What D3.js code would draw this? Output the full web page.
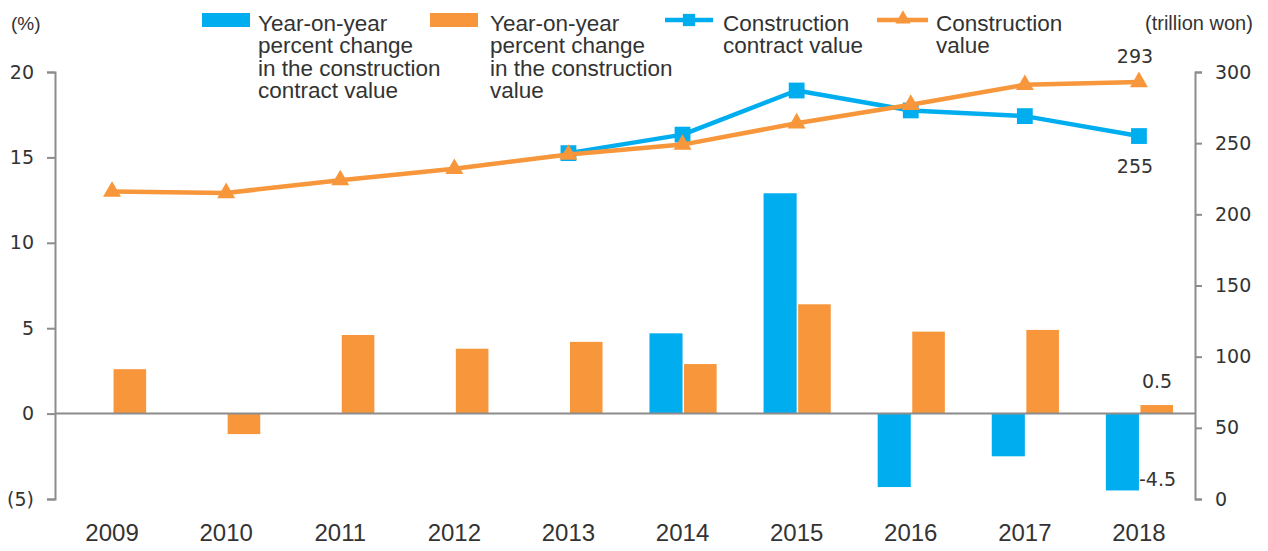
<!DOCTYPE html>
<html>
<head>
<meta charset="utf-8">
<script src="https://cdn.jsdelivr.net/npm/d3@7"></script>
<style>
  body { margin: 0; background: #fff; }
  svg { display: block; }
</style>
</head>
<body>
<svg id="chart"></svg>
<script>
// data
var years = ["2009", "2010", "2011", "2012", "2013", "2014", "2015", "2016", "2017", "2018"];
var contractPct = [null, null, null, null, null, 4.7, 12.9, -4.3, -2.5, -4.5];
var constructionPct = [2.6, -1.2, 4.6, 3.8, 4.2, 2.9, 6.4, 4.8, 4.9, 0.5];
var contractValue = [null, null, null, null, 243, 256, 287, 273, 269, 255];
var constructionValue = [216, 215, 224, 232, 242, 249, 264, 277, 291, 293];
var leftTicks = [-5, 0, 5, 10, 15, 20];
var rightTicks = [0, 50, 100, 150, 200, 250, 300];

function init() {
    var w = 1268;
    var h = 551;
    var blue = "#00aeef";
    var orange = "#f7963a";
    var grey = "#8c8c8c";
    var textCol = "#333";

    var svg = d3.select("#chart")
                .attr("width", w)
                .attr("height", h);

    var x = d3.scaleBand()
              .domain(years)
              .range([55, 1196])
              .padding(0);

    var yL = d3.scaleLinear().domain([-5, 20]).range([499, 72]);
    var yR = d3.scaleLinear().domain([0, 300]).range([499, 72]);

    var barW = x.bandwidth() * 0.29;
    function cx(i) { return x(years[i]) + x.bandwidth() / 2; }

    // bars
    svg.append("g").selectAll("rect")
        .data(contractPct)
        .enter()
        .filter(function(d) { return d !== null; })
        .append("rect")
        .attr("x", function(d) { return cx(contractPct.indexOf(d)) - barW; })
        .attr("y", function(d) { return yL(Math.max(0, d)); })
        .attr("width", barW)
        .attr("height", function(d) { return Math.abs(yL(d) - yL(0)); })
        .attr("fill", blue);

    svg.append("g").selectAll("rect")
        .data(constructionPct)
        .enter()
        .append("rect")
        .attr("x", function(d, i) { return cx(i) + 1.5; })
        .attr("y", function(d) { return yL(Math.max(0, d)); })
        .attr("width", barW - 0.5)
        .attr("height", function(d) { return Math.abs(yL(d) - yL(0)); })
        .attr("fill", orange);

    // axes
    var leftAxis = d3.axisLeft(yL)
                     .tickValues(leftTicks)
                     .tickSize(8)
                     .tickPadding(13)
                     .tickFormat(function(d) { return d < 0 ? "(" + Math.abs(d) + ")" : d; });
    var gl = svg.append("g")
                .attr("transform", "translate(55,0)")
                .call(leftAxis);

    var rightAxis = d3.axisRight(yR)
                      .tickValues(rightTicks)
                      .tickSize(7)
                      .tickPadding(13);
    var gr = svg.append("g")
                .attr("transform", "translate(1195,0)")
                .call(rightAxis);

    [gl, gr].forEach(function(g) {
        g.selectAll("path, line").attr("stroke", grey).attr("stroke-width", 2);
        g.selectAll("text")
         .attr("fill", textCol)
         .style("font-family", "DejaVu Sans")
         .style("font-size", "19px");
    });

    // zero line
    svg.append("line")
        .attr("x1", 55).attr("x2", 1195)
        .attr("y1", yL(0)).attr("y2", yL(0))
        .attr("stroke", grey)
        .attr("stroke-width", 2);

    // year labels
    svg.append("g").selectAll("text")
        .data(years)
        .enter()
        .append("text")
        .attr("x", function(d, i) { return cx(i); })
        .attr("y", 541)
        .attr("text-anchor", "middle")
        .style("font-family", "Liberation Sans")
        .style("font-size", "24px")
        .attr("fill", textCol)
        .text(function(d) { return d; });

    // lines
    function drawLine(values, scale, color, symbol, size) {
        var pts = [];
        values.forEach(function(v, i) {
            if (v !== null) pts.push([cx(i), scale(v)]);
        });
        svg.append("path")
            .attr("d", d3.line()(pts))
            .attr("fill", "none")
            .attr("stroke", color)
            .attr("stroke-width", 4.5)
            .attr("stroke-linejoin", "round");
        svg.append("g").selectAll("path")
            .data(pts)
            .enter()
            .append("path")
            .attr("transform", function(d) { return "translate(" + d[0] + "," + d[1] + ")"; })
            .attr("d", d3.symbol().type(symbol).size(size))
            .attr("fill", color);
    }
    drawLine(contractValue, yR, blue, d3.symbolSquare, 250);
    drawLine(constructionValue, yR, orange, d3.symbolTriangle, 140);

    // value labels
    var last = years.length - 1;
    function label(tx, ty, str, anchor) {
        svg.append("text")
            .attr("x", tx).attr("y", ty)
            .attr("text-anchor", anchor)
            .style("font-family", "DejaVu Sans")
            .style("font-size", "19px")
            .attr("fill", textCol)
            .text(str);
    }
    label(cx(last) - 4, yR(constructionValue[last]) - 19, constructionValue[last], "middle");
    label(cx(last) - 4, yR(contractValue[last]) + 37, contractValue[last], "middle");
    label(cx(last) + 1.5 + barW / 2, yL(constructionPct[last]) - 17, constructionPct[last], "middle");
    label(cx(last), yL(contractPct[last]) - 4, contractPct[last], "start");

    // axis unit labels
    svg.append("text")
        .attr("x", 11).attr("y", 30)
        .style("font-family", "Liberation Sans")
        .style("font-size", "19px")
        .attr("fill", textCol)
        .text("(%)");
    svg.append("text")
        .attr("x", 1145).attr("y", 30)
        .style("font-family", "Liberation Sans")
        .style("font-size", "20px")
        .attr("fill", textCol)
        .text("(trillion won)");

    // legend
    var legendFont = "22.5px";
    function legendText(tx, lines) {
        var t = svg.append("text")
                   .attr("x", tx).attr("y", 30.5)
                   .style("font-family", "Liberation Sans")
                   .style("font-size", legendFont)
                   .attr("fill", textCol);
        lines.forEach(function(s, i) {
            t.append("tspan")
             .attr("x", tx)
             .attr("y", 30.5 + i * 22.6)
             .text(s);
        });
    }

    svg.append("rect").attr("x", 202).attr("y", 13).attr("width", 48).attr("height", 14).attr("fill", blue);
    legendText(258, ["Year-on-year", "percent change", "in the construction", "contract value"]);

    svg.append("rect").attr("x", 430).attr("y", 13).attr("width", 48).attr("height", 14).attr("fill", orange);
    legendText(490, ["Year-on-year", "percent change", "in the construction", "value"]);

    svg.append("line").attr("x1", 665).attr("x2", 713).attr("y1", 20).attr("y2", 20)
        .attr("stroke", blue).attr("stroke-width", 4.5);
    svg.append("path").attr("transform", "translate(689,20)")
        .attr("d", d3.symbol().type(d3.symbolSquare).size(150)).attr("fill", blue);
    legendText(723, ["Construction", "contract value"]);

    svg.append("line").attr("x1", 877).attr("x2", 928).attr("y1", 20).attr("y2", 20)
        .attr("stroke", orange).attr("stroke-width", 4.5);
    svg.append("path").attr("transform", "translate(903,19)")
        .attr("d", d3.symbol().type(d3.symbolTriangle).size(100)).attr("fill", orange);
    legendText(936, ["Construction", "value"]);
}
window.onload = init;
</script>
</body>
</html>
